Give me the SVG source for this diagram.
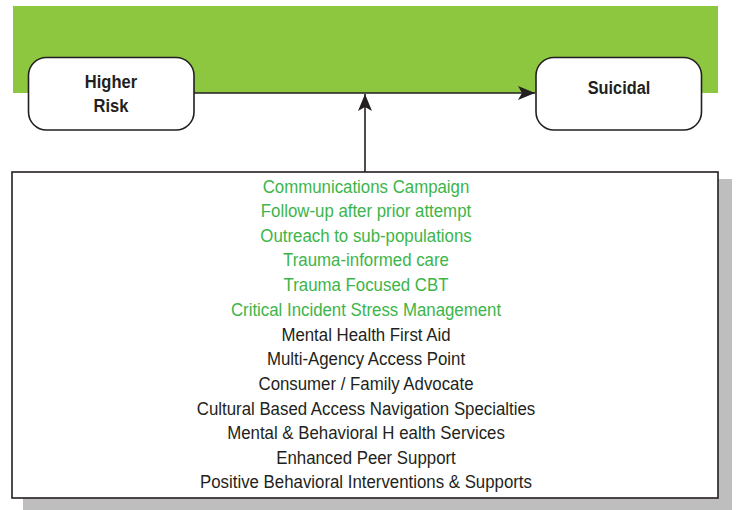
<svg xmlns="http://www.w3.org/2000/svg" width="739" height="510" viewBox="0 0 739 510">
<style>
.node{fill:#fff;stroke:#231f20;stroke-width:1.6}
.title{font-family:"Liberation Sans",Arial,sans-serif;font-weight:bold;font-size:19px;fill:#231f20;text-anchor:middle}
.item{font-family:"Liberation Sans",Arial,sans-serif;font-size:18.5px;text-anchor:middle}
.g{fill:#3cb54a}
.k{fill:#231f20}
.conn{stroke:#231f20;stroke-width:1.6;fill:none}
</style>
<defs>
<marker id="arr" markerWidth="18" markerHeight="14" refX="17" refY="7" orient="auto" markerUnits="userSpaceOnUse">
<path d="M0,0 L17,7 L0,14 L4,7 Z" fill="#231f20"/>
</marker>
</defs>
<rect x="0" y="0" width="739" height="510" fill="#fff"/>
<rect id="band" x="13" y="6" width="705" height="87" fill="#8dc63f"/>
<g id="connectors">
<line class="conn" x1="194" y1="93" x2="535" y2="93" marker-end="url(#arr)"/>
<line class="conn" x1="365" y1="172" x2="365" y2="94" marker-end="url(#arr)"/>
</g>
<g id="higher-risk">
<rect class="node" x="28.5" y="57.5" width="165.5" height="72.5" rx="18"/>
<g transform="translate(111,0) scale(0.87,1)">
<text class="title" x="0" y="88">Higher</text>
<text class="title" x="0" y="112">Risk</text>
</g>
</g>
<g id="suicidal">
<rect class="node" x="536" y="57.5" width="165.5" height="72.5" rx="18"/>
<g transform="translate(619,0) scale(0.86,1)">
<text class="title" x="0" y="94">Suicidal</text>
</g>
</g>
<g id="interventions">
<rect x="23" y="179" width="709" height="331" fill="#bebebe"/>
<rect class="node" x="12" y="172" width="706" height="326"/>
<g transform="translate(366,0) scale(0.91,1)">
<text class="item g" x="0" y="193">Communications Campaign</text>
<text class="item g" x="0" y="217.5">Follow-up after prior attempt</text>
<text class="item g" x="0" y="242">Outreach to sub-populations</text>
<text class="item g" x="0" y="266.5">Trauma-informed care</text>
<text class="item g" x="0" y="291">Trauma Focused CBT</text>
<text class="item g" x="0" y="316">Critical Incident Stress Management</text>
<text class="item k" x="0" y="341">Mental Health First Aid</text>
<text class="item k" x="0" y="365.5">Multi-Agency Access Point</text>
<text class="item k" x="0" y="390">Consumer / Family Advocate</text>
<text class="item k" x="0" y="415">Cultural Based Access Navigation Specialties</text>
<text class="item k" x="0" y="439.5">Mental &amp; Behavioral H ealth Services</text>
<text class="item k" x="0" y="464">Enhanced Peer Support</text>
<text class="item k" x="0" y="488.5">Positive Behavioral Interventions &amp; Supports</text>
</g>
</g>
</svg>
